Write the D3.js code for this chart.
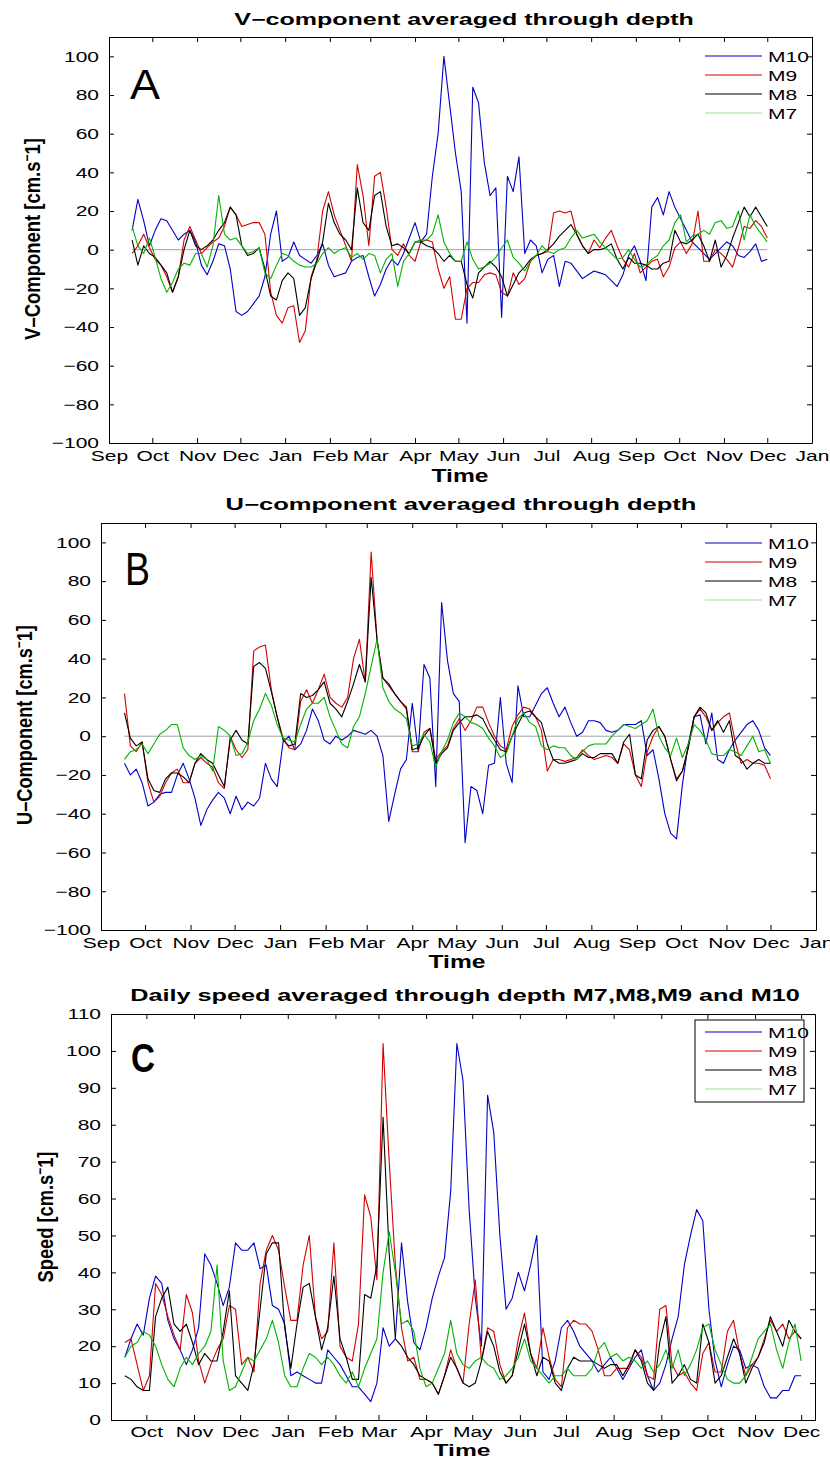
<!DOCTYPE html>
<html>
<head>
<meta charset="utf-8">
<script src="https://cdn.jsdelivr.net/npm/d3@7"></script>
<style>
  body { margin: 0; background: #fff; }
  text { font-family: "Liberation Sans", Arial, Helvetica, sans-serif; }
</style>
</head>
<body>
<script>
/* data: one value every 4 days from 17 Sep 2009 to 1 Dec 2010 */
const startDate = new Date(2009, 8, 17);
const stepDays = 4;
const seriesNames = ["M10", "M9", "M8", "M7"];
const seriesColors = ["#0000c8", "#d40000", "#000000", "#00b400"];

/* V-component (cm/s) */
const vM10 = [10, 26, 15, 2, 10, 16, 15, 10, 5, 8,
  10, 4, -8, -13, -6, 3, 2, -10, -32, -34,
  -32, -28, -24, -14, 8, 20, -6, -4, 4, -3,
  -5, -7, -3, 3, -8, -14, -13, -12, -6, -4,
  -3, -14, -24, -18, -10, -5, -8, -2, 6, 14,
  4, 8, 38, 60, 100, 75, 50, 30, -38, 84,
  76, 45, 28, 32, -35, 38, 30, 48, -2, 5,
  2, -12, -5, -3, -19, -6, -7, -11, -15, -13,
  -11, -12, -13, -16, -19, -13, -3, 2, -6, -16,
  22, 27, 18, 30, 22, 16, 10, 4, 1, -2,
  -5, -2, 1, 4, 2, -3, -4, -1, 3, -6, -5];
const vM9 = [-2, 2, 8, 1, -5, -8, -14, -22, -14, 5,
  12, 5, -2, 1, 4, 6, 12, 22, 18, 12,
  13, 14, 14, 8, -22, -34, -38, -30, -29, -48,
  -42, -14, -5, 20, 30, 18, 10, 2, -6, 44,
  28, 2, 38, 40, 22, 0, -3, 3, -3, -6,
  4, 5, 4, -10, -20, -14, -36, -36, -20, -17,
  -17, -13, -12, -13, -22, -24, -12, -18, -15, -6,
  -3, -2, -1, 19, 20, 19, 20, 8, 2, -2,
  5, 1, 6, 10, 2, -5, -9, -2, -12, -9,
  -6, -5, -14, -9, 1, 4, -2, 3, 20, -6,
  -6, 0, -2, -5, -9, 1, 12, 11, 15, 12, 6];
const vM8 = [5, -8, 2, -2, -4, -8, -12, -22, -14, 0,
  10, 2, 0, 2, 5, 10, 14, 22, 18, 2,
  -3, -2, 1, -10, -24, -26, -16, -12, -15, -34,
  -30, -15, -6, 4, 24, 14, 8, 5, 0, 32,
  14, 10, 28, 30, 12, 2, 3, 1, -2, 4,
  4, 2, 1, -2, -6, -3, -6, -6, -18, -25,
  -12, -9, -6, -9, -14, -24, -18, -12, -9, -5,
  -3, -2, 0, 3, 7, 10, 13, 8, 2, -2,
  0, 0, 1, 3, -5, -10, -4, -7, -7, -8,
  -10, -10, -7, -6, 10, 4, 3, 5, 8, 2,
  -6, 5, -9, -3, 6, 14, 22, 17, 22, 17, 12];
const vM7 = [12, 2, -2, 6, -4, -15, -22, -17, -10, -7,
  -8, -2, -2, -9, 2, 28, 8, 5, 6, 2,
  -2, -1, 1, -12, -15, -8, -2, -3, -6, -8,
  -9, -9, -7, -2, 1, -2, 0, 1, -4, -2,
  -5, -2, -3, -12, -5, -2, -19, -6, -2, 4,
  5, 5, 8, 18, 4, -2, -6, -6, 4, -5,
  -10, -9, -7, -4, 1, 5, -4, -7, -11, -6,
  -3, 2, -1, -2, 0, 1, 6, 10, 6, 7,
  8, 4, 1, -2, -5, -4, 0, -5, -9, -8,
  -5, -3, 2, 5, 14, 18, 4, 7, 8, 10,
  8, 14, 15, 11, 12, 20, 5, 18, 12, 8, 4];

/* U-component (cm/s) */
const uM10 = [-14, -20, -17, -24, -36, -34, -30, -29, -29, -20,
  -14, -22, -32, -46, -38, -33, -29, -32, -40, -31,
  -38, -34, -36, -32, -14, -22, -26, -3, 0, -7,
  -4, 3, 14, 8, -2, -4, 0, -2, 0, 3,
  2, 1, 3, 0, -10, -44, -30, -17, -12, 17,
  -8, 37, 30, -26, 69, 39, 22, 18, -55, -26,
  -28, -40, -15, -14, 20, -14, -24, 26, 10, 10,
  16, 22, 25, 17, 10, 15, 7, 0, 2, 8,
  8, 7, 3, 2, 3, 6, 6, 6, 8, -10,
  -7, -22, -40, -50, -53, -25, -4, 10, 11, -4,
  12, -12, -14, -7, -2, 2, 6, 8, 3, -6, -10];
const uM9 = [22, -5, -8, -3, -24, -34, -31, -24, -19, -17,
  -24, -24, -14, -11, -14, -16, -24, -27, 0, -7,
  -11, -7, 44, 46, 47, 24, 10, -1, -6, -7,
  18, 24, 17, 24, 32, 20, 17, 15, 20, 40,
  50, 28, 95, 50, 30, 26, 22, 18, 14, -8,
  -8, 2, 4, -12, -8, -5, 4, 9, 3, 8,
  15, 15, 7, 0, -5, -7, 5, 11, 15, 14,
  10, 3, -18, -12, -12, -13, -12, -11, -7, -10,
  -12, -11, -10, -11, -14, -4, -7, -20, -26, -8,
  0, 5, 0, -12, -22, -18, -6, 10, 14, 10,
  3, 7, 10, 12, -3, -14, -12, -14, -14, -15, -22];
const uM8 = [12, -1, -5, -3, -22, -28, -29, -22, -19, -19,
  -21, -24, -14, -9, -12, -14, -20, -26, -2, 3,
  -2, -4, 36, 38, 35, 23, 10, -2, -5, -4,
  22, 20, 21, 24, 28, 17, 14, 10, 18, 27,
  37, 28, 82, 50, 30, 27, 22, 18, 15, -7,
  -6, 0, 4, -14, -9, -6, 3, 7, 10, 10,
  11, 9, 3, -2, -7, -8, 0, 6, 12, 13,
  10, 7, -4, -12, -14, -14, -13, -12, -9, -11,
  -11, -9, -9, -9, -14, -3, 1, -20, -22, -2,
  3, 5, 0, -12, -23, -18, -6, 10, 15, 12,
  3, 8, 2, 8, -10, -12, -17, -14, -12, -14, -14];
const uM7 = [-12, -8, -7, -4, -9, -4, 1, 3, 6, 6,
  -6, -10, -12, -10, -12, -18, 5, 3, 0, -10,
  -9, -3, 8, 14, 22, 16, 6, -1, -2, -3,
  6, 14, 17, 17, 20, 10, 3, -4, -6, 5,
  10, 22, 36, 50, 25, 18, 14, 12, 9, -5,
  -4, 1, -3, -16, -8, -2, 7, 12, 10, 7,
  6, 4, -1, -5, -11, -9, 0, 9, 12, 7,
  5, -5, -7, -5, -6, -6, -10, -12, -8, -5,
  -4, -4, -4, 0, 3, 6, 5, 4, 6, 8,
  14, 0, -6, -10, -1, -11, -4, 6, 3, -2,
  -9, -10, -10, -7, -8, -10, -5, 0, -8, -7, -14];

/* daily speed (cm/s) */
const sM10 = [17, 22, 26, 23, 33, 39, 37, 27, 22, 19,
  15, 19, 25, 45, 42, 37, 31, 36, 48, 46,
  46, 48, 41, 42, 31, 30, 26, 12, 13, 12,
  11, 10, 10, 19, 17, 15, 12, 9, 9, 7,
  5, 10, 25, 20, 22, 48, 32, 21, 19, 25,
  33, 39, 44, 62, 102, 92, 57, 33, 20, 88,
  78, 50, 30, 33, 40, 35, 42, 50, 13, 11,
  16, 25, 27, 24, 20, 18, 16, 13, 15, 17,
  14, 11, 14, 17, 19, 12, 8, 10, 15, 22,
  28, 42, 50, 57, 54, 30, 16, 9, 15, 20,
  19, 14, 15, 14, 9, 6, 6, 8, 8, 12, 12];
const sM9 = [21, 22, 15, 8, 12, 37, 34, 28, 23, 19,
  34, 29, 16, 10, 15, 19, 22, 31, 30, 15,
  17, 13, 37, 46, 50, 46, 36, 27, 27, 42,
  50, 28, 22, 24, 48, 20, 17, 16, 26, 61,
  55, 38, 102, 70, 42, 25, 16, 17, 11, 11,
  10, 7, 12, 19, 14, 10, 26, 38, 16, 25,
  24, 15, 10, 12, 22, 29, 18, 14, 25, 17,
  11, 9, 25, 27, 26, 26, 24, 19, 12, 12,
  14, 14, 14, 19, 17, 12, 11, 30, 31, 15,
  12, 13, 10, 8, 18, 21, 13, 13, 24, 27,
  18, 12, 15, 17, 22, 27, 24, 26, 22, 24, 22];
const sM8 = [12, 11, 9, 8, 8, 28, 33, 36, 26, 24,
  26, 21, 15, 18, 16, 16, 24, 35, 12, 10,
  8, 15, 30, 45, 48, 48, 25, 14, 26, 36,
  37, 28, 19, 25, 39, 22, 17, 11, 11, 34,
  33, 42, 82, 45, 22, 20, 17, 15, 12, 11,
  10, 7, 12, 17, 14, 10, 9, 10, 16, 24,
  20, 13, 10, 12, 19, 26, 18, 12, 17, 16,
  10, 8, 14, 17, 16, 16, 16, 15, 14, 15,
  15, 12, 15, 19, 16, 10, 8, 21, 28, 10,
  12, 15, 11, 10, 26, 21, 10, 12, 17, 22,
  18, 10, 14, 17, 21, 28, 24, 20, 27, 24, 22];
const sM7 = [17, 20, 21, 24, 23, 20, 15, 11, 9, 14,
  17, 15, 18, 20, 24, 42, 16, 8, 9, 13,
  17, 16, 19, 22, 27, 21, 12, 9, 9, 14,
  18, 17, 15, 17, 15, 12, 10, 13, 9, 14,
  18, 22, 40, 51, 40, 26, 27, 24, 14, 9,
  10, 14, 18, 27, 18, 15, 14, 16, 17, 15,
  14, 11, 12, 14, 17, 22, 16, 14, 12, 10,
  12, 12, 14, 12, 12, 12, 14, 19, 21, 17,
  18, 16, 17, 16, 14, 16, 13, 15, 19, 14,
  19, 12, 15, 19, 25, 26, 19, 15, 11, 10,
  10, 12, 17, 22, 24, 26, 19, 14, 21, 26, 16];

const vTicks = d3.range(-100, 101, 20);
const speedTicks = d3.range(0, 111, 10);

const dates = vM10.map((d, i) => d3.timeDay.offset(startDate, i * stepDays));
const monthFormat = d3.timeFormat("%b");
const textStretch = 1.4; // the figure is wider than tall in its text

let svg = d3.select("body").append("svg")
  .attr("width", 830)
  .attr("height", 1458)
  .style("background", "#fff");

/* text helper: fixed size, stretched sideways */
function addText(g, str, x, y, o) {
  let t = g.append("text")
    .attr("text-anchor", o.anchor || "middle")
    .attr("font-size", o.size)
    .attr("font-weight", o.bold ? "bold" : "normal")
    .text(str);
  if (o.family) t.attr("font-family", o.family);
  let k = o.sx || 1;
  if (o.width) k = o.width / t.node().getComputedTextLength();
  t.attr("transform", "translate(" + x + "," + y + ") scale(" + k + ",1)");
  return t;
}

function addYLabel(g, name, x, y, len) {
  let t = g.append("text")
    .attr("text-anchor", "middle")
    .attr("font-size", 18.5)
    .attr("font-weight", "bold");
  t.append("tspan").text(name + " [cm.s");
  t.append("tspan").attr("dy", -7).attr("font-size", 12).text("\u2212");
  t.append("tspan").attr("dy", 7).text("1]");
  let k = len / t.node().getComputedTextLength();
  t.attr("transform", "translate(" + x + "," + y + ") rotate(-90) scale(" + k + ",1.2)");
}

function drawPanel(p) {
  let g = svg.append("g");
  let x = d3.scaleTime().domain(p.xDomain).range([p.left, p.right]);
  let y = d3.scaleLinear().domain(p.yDomain).range([p.bottom, p.top]);
  let months = d3.timeMonth.every(1);

  if (p.zero) {
    g.append("line")
      .attr("x1", x(dates[0])).attr("x2", x(dates[dates.length - 1]))
      .attr("y1", y(0)).attr("y2", y(0))
      .attr("stroke", "#a0a0a0").attr("stroke-width", 1);
  }

  let line = d3.line()
    .x((d, i) => x(dates[i]))
    .y(d => y(d));

  p.series.forEach((s, k) => {
    g.append("path")
      .datum(s)
      .attr("d", line)
      .attr("fill", "none")
      .attr("stroke", seriesColors[k])
      .attr("stroke-width", 1.1)
      .attr("stroke-linejoin", "round");
  });

  /* box with inward ticks */
  let axB = g.append("g")
    .attr("transform", "translate(0," + p.bottom + ")")
    .call(d3.axisBottom(x).ticks(months).tickFormat(monthFormat)
      .tickSizeInner(-5).tickSizeOuter(0).tickPadding(p.xPad));
  axB.selectAll("text").attr("transform", "scale(" + textStretch + ",1)");

  g.append("g")
    .attr("transform", "translate(0," + p.top + ")")
    .call(d3.axisTop(x).ticks(months).tickFormat("")
      .tickSizeInner(-5).tickSizeOuter(0));

  let axL = g.append("g")
    .attr("transform", "translate(" + p.left + ",0)")
    .call(d3.axisLeft(y).tickValues(p.yTicks)
      .tickSizeInner(-5).tickSizeOuter(0).tickPadding(10));
  axL.selectAll("text")
    .attr("x", -10 / textStretch)
    .attr("transform", "scale(" + textStretch + ",1)");

  g.append("g")
    .attr("transform", "translate(" + p.right + ",0)")
    .call(d3.axisRight(y).tickValues(p.yTicks).tickFormat("")
      .tickSizeInner(-5).tickSizeOuter(0));

  g.selectAll(".tick text")
    .attr("font-size", 15)
    .attr("font-family", "Liberation Sans, Arial, sans-serif")
    .attr("fill", "#000");
  g.selectAll(".domain, .tick line").attr("stroke", "#000");

  /* legend */
  let lg = g.append("g");
  if (p.legendBox) {
    lg.append("rect")
      .attr("x", p.legendBox[0]).attr("y", p.legendBox[1])
      .attr("width", p.legendBox[2]).attr("height", p.legendBox[3])
      .attr("fill", "#fff").attr("stroke", "#000");
  }
  seriesNames.forEach((n, k) => {
    let ly = p.legendY + k * 19;
    lg.append("line")
      .attr("x1", 705).attr("x2", 762)
      .attr("y1", ly).attr("y2", ly)
      .attr("stroke", k === 3 ? "#9ee09e" : seriesColors[k])
      .attr("stroke-width", 1.2);
    addText(lg, n, 768, ly + 5.5, { size: 15, anchor: "start", sx: textStretch });
  });

  /* texts */
  addText(g, p.title, p.titleX, p.titleY, { size: 16, bold: true, width: p.titleW });
  addText(g, "Time", p.timeX, p.timeY, { size: p.timeSize, bold: true, width: 57 });
  addYLabel(g, p.yName, p.yLabelX, p.yLabelY, p.yLabelLen);
  addText(g, p.letter, p.letterX, p.letterY,
    { size: p.letterSize, bold: p.letterBold, anchor: "start", width: p.letterW });
}

drawPanel({
  left: 109, right: 812, top: 37, bottom: 443,
  xDomain: [new Date(2009, 8, 1), new Date(2011, 0, 1)],
  yDomain: [-100, 110], yTicks: vTicks, xPad: 7,
  series: [vM10, vM9, vM8, vM7], zero: true,
  legendY: 56,
  title: "V\u2212component averaged through depth", titleX: 464, titleY: 25, titleW: 460,
  timeX: 460, timeY: 482, timeSize: 18,
  yName: "V\u2013Component", yLabelX: 40, yLabelY: 239, yLabelLen: 202,
  letter: "A", letterX: 130, letterY: 99, letterSize: 43, letterW: 30, letterBold: false
});

drawPanel({
  left: 101, right: 816, top: 523, bottom: 930,
  xDomain: [new Date(2009, 8, 1), new Date(2011, 0, 1)],
  yDomain: [-100, 110], yTicks: vTicks, xPad: 7,
  series: [uM10, uM9, uM8, uM7], zero: true,
  legendY: 543,
  title: "U\u2212component averaged through depth", titleX: 461, titleY: 510, titleW: 471,
  timeX: 457, timeY: 968, timeSize: 18,
  yName: "U\u2013Component", yLabelX: 32, yLabelY: 725, yLabelLen: 200,
  letter: "B", letterX: 125, letterY: 585, letterSize: 46, letterW: 25, letterBold: false
});

drawPanel({
  left: 111, right: 815, top: 1014, bottom: 1420,
  xDomain: [new Date(2009, 8, 8), new Date(2010, 11, 10)],
  yDomain: [0, 110], yTicks: speedTicks, xPad: 6,
  series: [sM10, sM9, sM8, sM7], zero: false,
  legendY: 1032, legendBox: [695, 1020, 109, 82],
  title: "Daily speed averaged through depth M7,M8,M9 and M10", titleX: 465, titleY: 1001, titleW: 670,
  timeX: 462, timeY: 1455.5, timeSize: 16.5,
  yName: "Speed", yLabelX: 53, yLabelY: 1217, yLabelLen: 131,
  letter: "C", letterX: 131, letterY: 1072, letterSize: 40, letterW: 24, letterBold: true
});
</script>
</body>
</html>
